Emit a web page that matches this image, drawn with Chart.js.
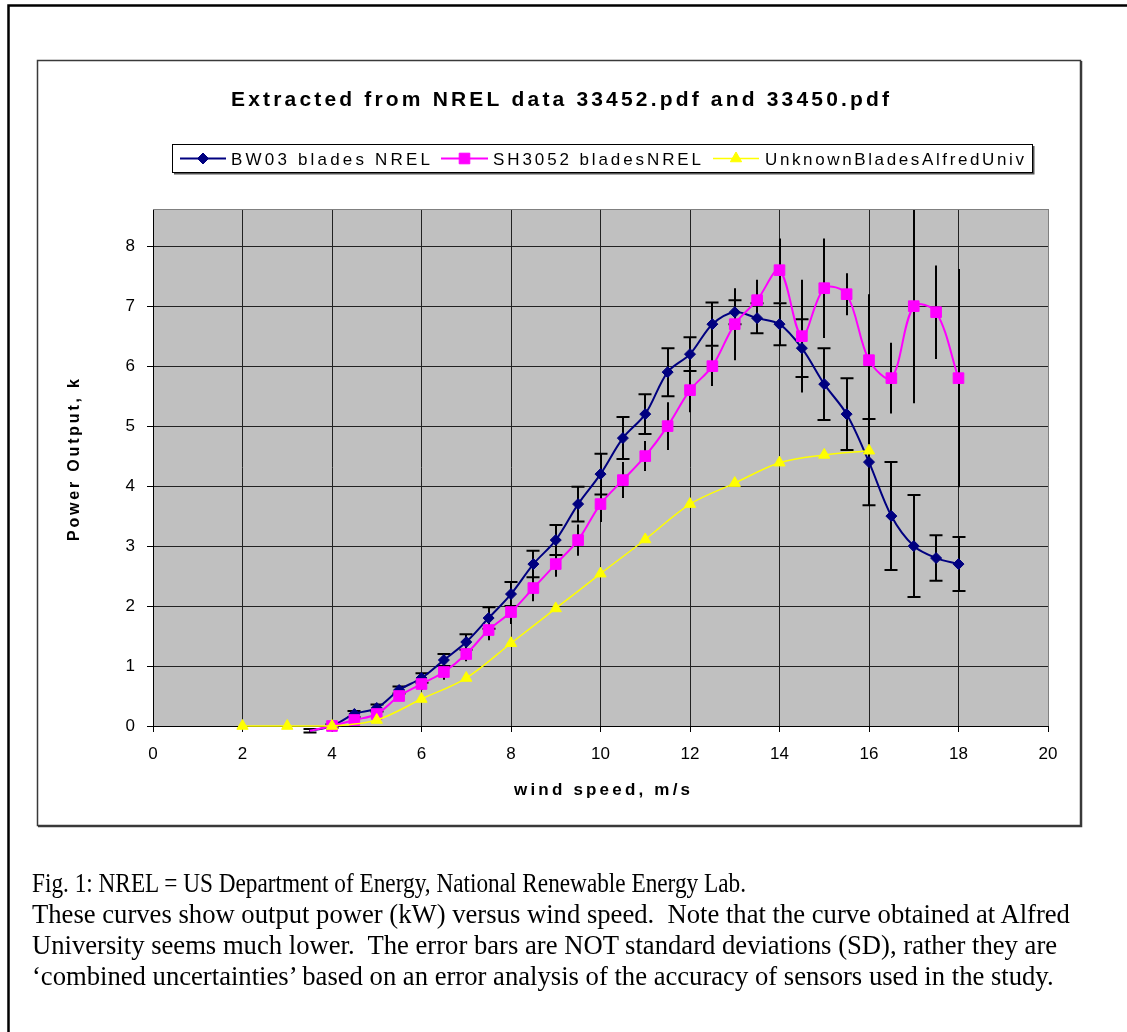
<!DOCTYPE html>
<html>
<head>
<meta charset="utf-8">
<script src="https://cdn.jsdelivr.net/npm/chart.js@4.4.1/dist/chart.umd.min.js"></script>
<style>
  html, body { margin: 0; padding: 0; background: #fff; }
  #wrap { position: relative; width: 1127px; height: 1032px; overflow: hidden; }
  #c { position: absolute; left: 0; top: 0; }
  .cap {
    position: absolute; left: 32px;
    font-family: "Liberation Serif", "Times New Roman", serif;
    font-size: 26.65px; line-height: 31px; white-space: pre; color: #000;
    transform-origin: 0 50%;
  }
</style>
</head>
<body>
<div id="wrap">
  <canvas id="c" width="1127" height="1032"></canvas>
  <div class="cap" id="cap1" style="top:867.5px">Fig. 1: NREL = US Department of Energy, National Renewable Energy Lab.</div>
  <div class="cap" id="cap2" style="top:898.5px">These curves show output power (kW) versus wind speed.  Note that the curve obtained at Alfred</div>
  <div class="cap" id="cap3" style="top:929.5px">University seems much lower.  The error bars are NOT standard deviations (SD), rather they are</div>
  <div class="cap" id="cap4" style="top:960.5px">‘combined uncertainties’ based on an error analysis of the accuracy of sensors used in the study.</div>
</div>
<script>
// ---------------- DATA ----------------
const chartTitle = 'Extracted from NREL data 33452.pdf and 33450.pdf';
const xAxisTitle = 'wind speed, m/s';
const yAxisTitle = 'Power Output, k';
const seriesNames = ['BW03 blades NREL', 'SH3052 bladesNREL', 'UnknownBladesAlfredUniv'];

const xTickValues = [0, 2, 4, 6, 8, 10, 12, 14, 16, 18, 20];
const yTickValues = [0, 1, 2, 3, 4, 5, 6, 7, 8];

const windNREL = [3.5, 4, 4.5, 5, 5.5, 6, 6.5, 7, 7.5, 8, 8.5, 9, 9.5, 10, 10.5, 11, 11.5, 12, 12.5, 13, 13.5, 14, 14.5, 15, 15.5, 16, 16.5, 17, 17.5, 18];
const powerBW03 = [-0.08, 0.0, 0.2, 0.3, 0.6, 0.8, 1.1, 1.4, 1.8, 2.2, 2.7, 3.1, 3.7, 4.2, 4.8, 5.2, 5.9, 6.2, 6.7, 6.9, 6.8, 6.7, 6.3, 5.7, 5.2, 4.4, 3.5, 3.0, 2.8, 2.7];
const errBW03   = [0.03, 0.03, 0.05, 0.06, 0.06, 0.08, 0.1, 0.13, 0.18, 0.2, 0.22, 0.25, 0.29, 0.34, 0.35, 0.33, 0.4, 0.28, 0.36, 0.2, 0.25, 0.35, 0.48, 0.6, 0.6, 0.72, 0.9, 0.85, 0.38, 0.45];
const powerSH3052 = [-0.08, 0.0, 0.1, 0.2, 0.5, 0.7, 0.9, 1.2, 1.6, 1.9, 2.3, 2.7, 3.1, 3.7, 4.1, 4.5, 5.0, 5.6, 6.0, 6.7, 7.1, 7.6, 6.5, 7.3, 7.2, 6.1, 5.8, 7.0, 6.9, 5.8];
const errSH3052   = [0.03, 0.03, 0.05, 0.06, 0.07, 0.1, 0.13, 0.12, 0.17, 0.2, 0.22, 0.21, 0.26, 0.3, 0.3, 0.25, 0.4, 0.37, 0.33, 0.6, 0.34, 0.53, 0.94, 0.83, 0.35, 1.1, 0.59, 1.62, 0.78, 1.82];

const windAlfred  = [2, 3, 4, 5, 6, 7, 8, 9, 10, 11, 12, 13, 14, 15, 16];
const powerAlfred = [0, 0, 0, 0.1, 0.45, 0.8, 1.38, 1.96, 2.54, 3.11, 3.7, 4.05, 4.39, 4.52, 4.59];

// ---------------- CAPTION FIT ----------------
(function fitCaption() {
  const el = document.getElementById('cap1');
  const w = el.getBoundingClientRect().width;
  const target = 714;
  if (w > 0) el.style.transform = 'scaleX(' + (target / w) + ')';
})();

// ---------------- HELPERS ----------------
const SANS = '"Liberation Sans", Arial, sans-serif';

function spacedText(ctx, text, x, y, target, align) {
  const chars = [...text];
  const w0 = chars.reduce((s, c) => s + ctx.measureText(c).width, 0);
  const sp = chars.length > 1 ? (target - w0) / (chars.length - 1) : 0;
  let cx = align === 'center' ? x - target / 2 : x;
  ctx.textAlign = 'left';
  for (const c of chars) {
    ctx.fillText(c, cx, y);
    cx += ctx.measureText(c).width + sp;
  }
}

function marker(ctx, style, r, x, y) {
  ctx.beginPath();
  if (style === 'rectRot') {
    ctx.moveTo(x - r, y); ctx.lineTo(x, y - r); ctx.lineTo(x + r, y); ctx.lineTo(x, y + r);
  } else if (style === 'rect') {
    const s = Math.SQRT1_2 * r;
    ctx.rect(x - s, y - s, 2 * s, 2 * s);
  } else if (style === 'triangle') {
    ctx.moveTo(x, y - r);
    ctx.lineTo(x + Math.sin(2 * Math.PI / 3) * r, y + r / 2);
    ctx.lineTo(x - Math.sin(2 * Math.PI / 3) * r, y + r / 2);
  }
  ctx.closePath();
  ctx.fill();
  ctx.stroke();
}

// marker sizes per series (markers are hidden for points below the axis minimum, as in the original)
const markerRadius = [5.5, 7.5, 6.5];
const radiusFor = r => c => (c.raw && c.raw.y < 0) ? 0 : r;

// ---------------- PLUGINS ----------------
const framePlugin = {
  id: 'frames',
  beforeDraw(chart) {
    const ctx = chart.ctx, a = chart.chartArea;
    ctx.save();
    ctx.fillStyle = '#fff';
    ctx.fillRect(0, 0, chart.width, chart.height);
    ctx.strokeStyle = '#000'; ctx.lineWidth = 2.5;
    ctx.beginPath();
    ctx.moveTo(8.5, chart.height + 5); ctx.lineTo(8.5, 5.5); ctx.lineTo(chart.width + 5, 5.5);
    ctx.stroke();
    ctx.strokeStyle = '#3a3a3a'; ctx.lineWidth = 1.5;
    ctx.strokeRect(37.5, 60.5, 1043, 765);
    ctx.beginPath();
    ctx.moveTo(1081.5, 61); ctx.lineTo(1081.5, 826.5); ctx.lineTo(38, 826.5);
    ctx.stroke();
    ctx.fillStyle = '#c0c0c0';
    ctx.fillRect(a.left, a.top, a.right - a.left, a.bottom - a.top);
    ctx.restore();
  },
  afterDraw(chart) {
    const ctx = chart.ctx, a = chart.chartArea;
    ctx.save();
    ctx.strokeStyle = '#808080'; ctx.lineWidth = 1;
    ctx.beginPath();
    ctx.moveTo(a.left, a.top + 0.5); ctx.lineTo(a.right + 0.5, a.top + 0.5); ctx.lineTo(a.right + 0.5, a.bottom);
    ctx.stroke();

    ctx.fillStyle = '#000';
    ctx.textBaseline = 'alphabetic';
    ctx.font = 'bold 21px ' + SANS;
    spacedText(ctx, chartTitle, 560, 106, 658, 'center');

    ctx.strokeStyle = '#000'; ctx.lineWidth = 1;
    ctx.strokeRect(172.5, 144.5, 860, 28);
    ctx.strokeStyle = '#555'; ctx.lineWidth = 1.5;
    ctx.beginPath(); ctx.moveTo(1033.75, 146); ctx.lineTo(1033.75, 173.75); ctx.lineTo(174, 173.75); ctx.stroke();
    const items = [
      { x0: 180, x1: 226, mx: 203, tx: 231, tw: 199 },
      { x0: 441, x1: 488, mx: 464.5, tx: 493, tw: 208 },
      { x0: 713, x1: 759, mx: 736, tx: 765, tw: 259 }
    ];
    const ly = 158.5;
    chart.data.datasets.forEach((ds, i) => {
      const it = items[i];
      ctx.strokeStyle = ds.borderColor; ctx.lineWidth = ds.borderWidth;
      ctx.beginPath(); ctx.moveTo(it.x0, ly); ctx.lineTo(it.x1, ly); ctx.stroke();
      ctx.fillStyle = ds.pointBackgroundColor; ctx.strokeStyle = ds.pointBorderColor; ctx.lineWidth = 1;
      marker(ctx, ds.pointStyle, markerRadius[i], it.mx, ly);
      ctx.fillStyle = '#000';
      ctx.font = '17px ' + SANS;
      spacedText(ctx, ds.label, it.tx, 164.5, it.tw, 'left');
    });

    ctx.font = 'bold 17px ' + SANS;
    spacedText(ctx, xAxisTitle, 602, 795, 176, 'center');
    ctx.save();
    ctx.translate(79, 460);
    ctx.rotate(-Math.PI / 2);
    ctx.font = 'bold 16px ' + SANS;
    spacedText(ctx, yAxisTitle, 0, 0, 162, 'center');
    ctx.restore();
    ctx.restore();
  }
};

const errorBarPlugin = {
  id: 'errorBars',
  beforeDatasetsDraw(chart) {
    const ctx = chart.ctx, xs = chart.scales.x, ys = chart.scales.y, a = chart.chartArea;
    ctx.save();
    ctx.beginPath();
    ctx.rect(a.left - 10, a.top, a.right - a.left + 20, a.bottom - a.top + 20);
    ctx.clip();
    ctx.strokeStyle = '#000'; ctx.lineWidth = 2;
    chart.data.datasets.forEach(ds => {
      if (!ds.errors) return;
      ds.data.forEach((p, i) => {
        const e = ds.errors[i];
        const px = Math.round(xs.getPixelForValue(p.x));
        const yt = ys.getPixelForValue(p.y + e), yb = ys.getPixelForValue(p.y - e);
        ctx.beginPath();
        ctx.moveTo(px, yt); ctx.lineTo(px, yb);
        if (ds.errorCaps) {
          ctx.moveTo(px - 6.5, yt); ctx.lineTo(px + 6.5, yt);
          ctx.moveTo(px - 6.5, yb); ctx.lineTo(px + 6.5, yb);
        }
        ctx.stroke();
      });
    });
    ctx.restore();
  }
};

// ---------------- CHART ----------------
const toPoints = (xs, ys) => xs.map((x, i) => ({ x: x, y: ys[i] }));

new Chart(document.getElementById('c'), {
  type: 'line',
  data: {
    datasets: [
      {
        label: seriesNames[0],
        data: toPoints(windNREL, powerBW03),
        errors: errBW03, errorCaps: true,
        borderColor: '#000080', backgroundColor: '#000080',
        pointBackgroundColor: '#000080', pointBorderColor: '#000080',
        borderWidth: 2, pointStyle: 'rectRot', pointRadius: radiusFor(markerRadius[0]), pointBorderWidth: 1,
        tension: 0.33, order: 2, clip: 8
      },
      {
        label: seriesNames[1],
        data: toPoints(windNREL, powerSH3052),
        errors: errSH3052, errorCaps: false,
        borderColor: '#ff00ff', backgroundColor: '#ff00ff',
        pointBackgroundColor: '#ff00ff', pointBorderColor: '#ff00ff',
        borderWidth: 2, pointStyle: 'rect', pointRadius: radiusFor(markerRadius[1]), pointBorderWidth: 1,
        tension: 0.33, order: 1, clip: 8
      },
      {
        label: seriesNames[2],
        data: toPoints(windAlfred, powerAlfred),
        borderColor: '#ffff00', backgroundColor: '#ffff00',
        pointBackgroundColor: '#ffff00', pointBorderColor: '#ffff00',
        borderWidth: 1.5, pointStyle: 'triangle', pointRadius: radiusFor(markerRadius[2]), pointBorderWidth: 1,
        tension: 0.33, order: 0, clip: 8
      }
    ]
  },
  options: {
    responsive: false,
    animation: false,
    events: [],
    devicePixelRatio: 1,
    layout: { padding: { left: 93, right: 79, top: 209, bottom: 256 } },
    plugins: { legend: { display: false }, title: { display: false }, tooltip: { enabled: false } },
    scales: {
      x: {
        type: 'linear', min: 0, max: 20,
        afterBuildTicks: s => { s.ticks = xTickValues.map(v => ({ value: v })); },
        afterFit: s => { s.height = 50; },
        ticks: { font: { family: SANS, size: 17 }, color: '#000', padding: 12, maxRotation: 0, autoSkip: false },
        grid: {
          color: c => (c.tick && c.tick.value === 20) ? '#808080' : '#222',
          lineWidth: 1, tickLength: 6, tickColor: '#000', drawTicks: true
        },
        border: { color: '#000', width: 1 }
      },
      y: {
        type: 'linear', min: 0, max: 8.62,
        afterBuildTicks: s => { s.ticks = yTickValues.map(v => ({ value: v })); },
        afterFit: s => { s.width = 60; },
        ticks: { font: { family: SANS, size: 17 }, color: '#000', padding: 12, includeBounds: false },
        grid: { color: '#222', lineWidth: 1, tickLength: 6, tickColor: '#000', drawTicks: true },
        border: { color: '#000', width: 1 }
      }
    }
  },
  plugins: [framePlugin, errorBarPlugin]
});
</script>
</body>
</html>
